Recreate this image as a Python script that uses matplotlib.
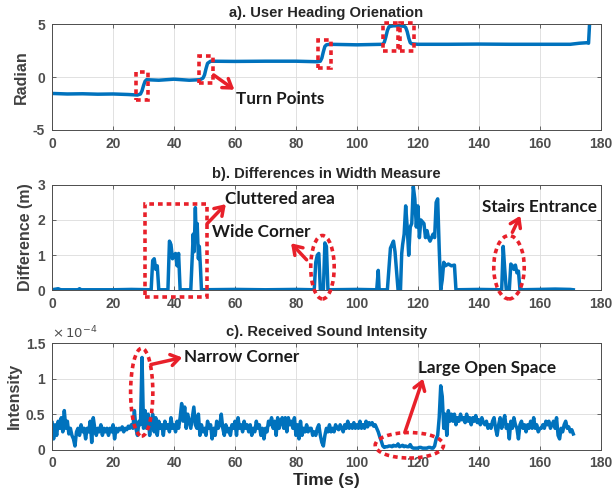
import numpy as np
import matplotlib
matplotlib.use("Agg")
import matplotlib.pyplot as plt
from matplotlib.patches import Rectangle, Ellipse, FancyArrowPatch
from matplotlib.ticker import FuncFormatter

# ---------------- data ----------------
heading_t = [0, 5, 10, 15, 20, 25, 28, 29, 29.5, 30, 30.5, 31, 35, 40, 45, 48.5, 49.5, 50, 50.5, 51, 52,
             60, 70, 80, 87, 88, 88.5, 89, 89.5, 90, 91, 100, 108.5, 109, 109.5, 110, 110.5, 111, 112, 114,
             115.5, 116, 116.5, 117, 117.5, 118, 120, 130, 140, 150, 160, 170, 173, 175.5, 176, 176.3]
heading_v = [-1.55, -1.6, -1.58, -1.62, -1.6, -1.65, -1.7, -1.6, -1.3, -0.8, -0.4, -0.25, -0.3, -0.2, -0.3,
             -0.25, -0.1, 0.2, 0.8, 1.3, 1.5, 1.48, 1.5, 1.5, 1.45, 1.5, 1.8, 2.4, 2.9, 3.05, 3.1, 3.05, 3.1,
             3.3, 3.8, 4.4, 4.75, 4.8, 4.85, 4.85, 4.8, 4.7, 4.3, 3.7, 3.25, 3.15, 3.1, 3.1, 3.12, 3.1, 3.1,
             3.1, 3.2, 3.25, 3.2, 4.85]

width_t = [0, 2, 2.5, 3, 8.5, 9, 9.5, 20, 26, 32.5, 33, 33.5, 34, 34.5, 35, 38, 38.5, 39, 39.5, 40, 40.5,
           41, 41.5, 42, 45.5, 46, 46.3, 46.6, 47, 47.3, 47.6, 48, 48.3, 48.7, 49, 60, 70, 80, 86, 86.5, 87,
           87.5, 88, 89, 89.5, 90, 90.5, 100, 106.5, 107, 107.3, 110, 111, 111.5, 112, 112.5, 113.5, 114.3,
           114.7, 115, 115.5, 116, 116.5, 117, 117.5, 118, 118.5, 119, 119.5, 120, 120.5, 121, 121.5, 122,
           122.5, 123, 123.5, 124, 124.5, 125, 125.5, 126, 126.5, 127, 127.5, 128, 128.5, 129, 130, 131, 132,
           132.5, 140, 147.5, 148, 148.5, 149, 150, 150.5, 151, 151.5, 152, 152.5, 153, 153.5, 160, 165, 170,
           171]
width_v = [0.02, 0.05, 0.03, 0.02, 0.02, 0.05, 0.02, 0.02, 0.03, 0.02, 0.85, 0.9, 0.6, 0.7, 0.02, 0.02,
           1.4, 1.3, 0.9, 1.0, 1.05, 0.7, 1.05, 0.02, 0.02, 1.0, 1.6, 1.1, 2.35, 1.4, 1.9, 0.9, 1.25, 0.6,
           0.02, 0.03, 0.02, 0.03, 0.02, 0.8, 1.0, 1.05, 0.02, 0.02, 1.35, 1.25, 0.02, 0.03, 0.02, 0.57,
           0.02, 0.02, 1.2, 1.3, 1.4, 1.1, 0.02, 0.02, 1.05, 1.3, 1.6, 2.4, 1.8, 1.0, 1.8, 1.9, 2.95, 2.6,
           1.8, 2.4, 1.5, 2.0, 1.95, 1.9, 1.5, 1.7, 1.5, 1.4, 1.5, 1.6, 1.5, 2.5, 2.6, 1.2, 0.02, 0.3, 0.8,
           0.7, 0.75, 0.7, 0.72, 0.02, 0.03, 0.02, 1.25, 0.6, 0.02, 0.02, 0.75, 0.7, 0.6, 0.72, 0.5, 0.55,
           0.02, 0.03, 0.04, 0.03, 0.02]

sound_t0 = 0.0
sound_dt = 0.5
sound_v = [0.38, 0.15, 0.35, 0.2, 0.4, 0.3, 0.45, 0.25, 0.55, 0.3, 0.4, 0.22, 0.3, 0.2, 0.15, 0.05, 0.25,
           0.3, 0.2, 0.35, 0.25, 0.3, 0.15, 0.3, 0.25, 0.4, 0.1, 0.45, 0.3, 0.2, 0.3, 0.25, 0.35, 0.2, 0.3,
           0.25, 0.3, 0.2, 0.3, 0.25, 0.35, 0.15, 0.3, 0.25, 0.3, 0.28, 0.32, 0.25, 0.3, 0.28, 0.33, 0.3,
           0.35, 0.3, 0.55, 0.3, 0.2, 0.4, 0.35, 1.3, 0.3, 0.55, 0.3, 0.5, 0.2, 0.4, 0.5, 0.25, 0.45, 0.2,
           0.4, 0.3, 0.35, 0.2, 0.4, 0.3, 0.35, 0.25, 0.45, 0.3, 0.35, 0.25, 0.4, 0.3, 0.45, 0.65, 0.4, 0.6,
           0.3, 0.5, 0.4, 0.3, 0.45, 0.6, 0.35, 0.3, 0.5, 0.2, 0.35, 0.25, 0.3, 0.2, 0.4, 0.3, 0.35, 0.15,
           0.3, 0.2, 0.4, 0.3, 0.35, 0.5, 0.3, 0.2, 0.35, 0.25, 0.3, 0.2, 0.35, 0.3, 0.4, 0.2, 0.45, 0.3,
           0.35, 0.25, 0.4, 0.3, 0.35, 0.25, 0.35, 0.2, 0.3, 0.25, 0.4, 0.3, 0.35, 0.2, 0.3, 0.15, 0.3, 0.25,
           0.4, 0.35, 0.45, 0.3, 0.4, 0.2, 0.45, 0.3, 0.4, 0.45, 0.3, 0.45, 0.25, 0.45, 0.35, 0.4, 0.3, 0.45,
           0.2, 0.35, 0.15, 0.4, 0.2, 0.3, 0.25, 0.35, 0.25, 0.3, 0.3, 0.2, 0.25, 0.2, 0.3, 0.35, 0.2, 0.1,
           0.05, 0.2, 0.3, 0.25, 0.35, 0.25, 0.3, 0.25, 0.35, 0.3, 0.28, 0.35, 0.3, 0.25, 0.35, 0.3, 0.4,
           0.3, 0.35, 0.3, 0.38, 0.3, 0.35, 0.3, 0.4, 0.3, 0.35, 0.3, 0.4, 0.32, 0.38, 0.35, 0.38, 0.33,
           0.35, 0.3, 0.25, 0.18, 0.12, 0.05, 0.03, 0.04, 0.04, 0.05, 0.05, 0.04, 0.06, 0.05, 0.05, 0.08,
           0.04, 0.05, 0.06, 0.04, 0.05, 0.04, 0.04, 0.07, 0.03, 0.02, 0.02, 0.02, 0.02, 0.03, 0.03, 0.02,
           0.02, 0.02, 0.02, 0.03, 0.03, 0.02, 0.02, 0.05, 0.15, 0.2, 0.45, 0.9, 0.75, 0.3, 0.5, 0.2, 0.55,
           0.4, 0.5, 0.4, 0.5, 0.35, 0.45, 0.4, 0.5, 0.42, 0.45, 0.38, 0.5, 0.4, 0.45, 0.35, 0.45, 0.4,
           0.48, 0.38, 0.42, 0.35, 0.45, 0.38, 0.35, 0.4, 0.3, 0.35, 0.3, 0.4, 0.45, 0.3, 0.2, 0.35, 0.45,
           0.3, 0.4, 0.48, 0.3, 0.35, 0.15, 0.4, 0.3, 0.45, 0.35, 0.3, 0.15, 0.35, 0.4, 0.3, 0.35, 0.25,
           0.35, 0.3, 0.4, 0.3, 0.45, 0.3, 0.35, 0.25, 0.3, 0.3, 0.35, 0.3, 0.4, 0.35, 0.4, 0.3, 0.35, 0.4,
           0.3, 0.45, 0.2, 0.15, 0.3, 0.25, 0.35, 0.4, 0.3, 0.32, 0.25, 0.28, 0.22]
sound_t = [sound_t0 + sound_dt * i for i in range(len(sound_v))]

titles = ["a). User Heading Orienation", "b). Differences in Width Measure", "c). Received Sound Intensity"]
ylabels = ["Radian", "Difference (m)", "Intensity"]
xticks = [0, 20, 40, 60, 80, 100, 120, 140, 160, 180]

# ---------------- style ----------------
LINE = "#0072BD"
RED = "#E8202A"
TICKC = "#4d4d4d"
TXT = "#1a1a1a"
annfont = dict(family="Lato", weight="bold", size=12.3)

fig = plt.figure(figsize=(6.13, 4.94), dpi=100)
L, R = 0.085, 0.980
boxes = [(0.737, 0.951), (0.412, 0.626), (0.090, 0.305)]
axes = []
for (b, t) in boxes:
    axes.append(fig.add_axes([L, b, R - L, t - b]))

ylims = [(-5, 5), (0, 3), (0, 1.5)]
yticks = [[-5, 0, 5], [0, 1, 2, 3], [0, 0.5, 1, 1.5]]
for ax, ti, yl, lim, yt in zip(axes, titles, ylabels, ylims, yticks):
    ax.set_xlim(0, 180)
    ax.set_ylim(*lim)
    ax.set_xticks(xticks)
    ax.set_yticks(yt)
    ax.grid(True, color="#dcdcdc", linewidth=0.6)
    ax.set_axisbelow(True)
    ax.tick_params(direction="in", length=3, colors=TICKC, width=0.6, pad=5,
                   top=True, right=True)
    for lab in ax.get_xticklabels() + ax.get_yticklabels():
        lab.set_fontfamily("Liberation Sans")
        lab.set_fontweight("bold")
        lab.set_fontsize(10)
    for s in ax.spines.values():
        s.set_color("#4d4d4d")
        s.set_linewidth(0.7)
    ax.set_title(ti, fontsize=10.6, fontweight="bold", color="#262626",
                 family="Liberation Sans", pad=5)
    ax.set_ylabel(yl, fontsize=11.5, fontweight="bold", color="#404040",
                  family="Liberation Sans", labelpad=3)
    ax.yaxis.set_major_formatter(FuncFormatter(lambda v, p: "{:g}".format(v)))

axes[0].plot(heading_t, heading_v, color=LINE, lw=2.5)
axes[1].plot(width_t, width_v, color=LINE, lw=2.5)
axes[2].plot(sound_t, sound_v, color=LINE, lw=2.5)
axes[2].set_xlabel("Time (s)", fontsize=12.5, fontweight="bold", color="#262626",
                   family="Liberation Sans", labelpad=2)
axes[2].text(0.0, 1.02, r"$\times\,10^{-4}$", transform=axes[2].transAxes, color=TICKC,
             fontsize=9.5, ha="left", va="bottom")


def rect(ax, x0, x1, y0, y1):
    ax.add_patch(Rectangle((x0, y0), x1 - x0, y1 - y0, fill=False, ec=RED, lw=2.6,
                           ls=(0, (1.3, 1.1)), clip_on=False, zorder=5))


def ell(ax, xc, yc, w, h):
    ax.add_patch(Ellipse((xc, yc), w, h, fill=False, ec=RED, lw=2.6,
                         ls=(0, (1.3, 1.1)), clip_on=False, zorder=5))


def arrow(ax, x0, y0, x1, y1):
    ax.add_patch(FancyArrowPatch((x0, y0), (x1, y1), arrowstyle="->,head_length=6,head_width=4",
                                 color=RED, lw=2.5, clip_on=False, zorder=6, shrinkA=0, shrinkB=0))


def label(ax, x, y, s):
    ax.text(x, y, s, ha="left", va="center", color=TXT, zorder=7, **annfont)


# panel a
a = axes[0]
rect(a, 27.6, 31.5, -2.2, 0.5)
rect(a, 48.2, 52.7, -0.6, 2.0)
rect(a, 87.4, 91.6, 0.9, 3.55)
rect(a, 108.6, 113.5, 2.5, 5.1)
rect(a, 114.0, 118.6, 2.5, 5.1)
arrow(a, 53, 0.2, 59.8, -1.2)
label(a, 60.4, -2.05, "Turn Points")

# panel b
b = axes[1]
rect(b, 30.5, 50.8, -0.19, 2.45)
arrow(b, 50.8, 1.89, 57.0, 2.45)
label(b, 56.6, 2.6, "Cluttered area")
label(b, 52.4, 1.65, "Wide Corner")
arrow(b, 83.5, 0.87, 78.4, 1.34)
ell(b, 88.7, 0.66, 7.7, 1.8)
label(b, 141.1, 2.38, "Stairs Entrance")
arrow(b, 151.0, 1.65, 153.6, 2.12)
ell(b, 149.9, 0.66, 10.0, 1.8)

# panel c
c = axes[2]
ell(c, 29.4, 0.81, 7.3, 1.24)
arrow(c, 32.4, 1.2, 42.7, 1.30)
label(c, 43.3, 1.31, "Narrow Corner")
ell(c, 117.2, 0.06, 22.4, 0.36)
arrow(c, 115.7, 0.24, 121.7, 1.0)
label(c, 119.9, 1.155, "Large Open Space")

fig.savefig("out.png", dpi=100)
